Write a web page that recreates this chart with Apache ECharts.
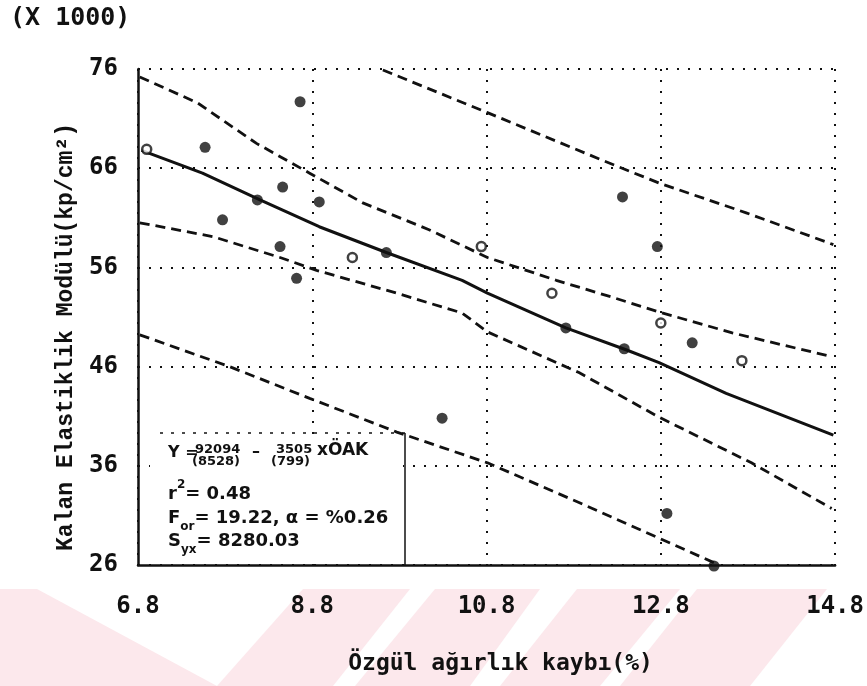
<!DOCTYPE html>
<html>
<head>
<meta charset="utf-8">
<script src="https://cdn.jsdelivr.net/npm/echarts@6/dist/echarts.min.js"></script>
<style>
  html, body { margin: 0; padding: 0; background: #fff; }
  #main { width: 867px; height: 686px; }
</style>
</head>
<body>
<div id="main"></div>
<script>
// x: Özgül ağırlık kaybı (%), y: Kalan elastiklik modülü (x1000 kp/cm2)
var xMin = 6.8, xMax = 14.8, xStep = 2;
var yMin = 26, yMax = 76, yStep = 10;

// measured points (filled / open markers)
var filledPts = [
  [7.57, 68.1], [8.66, 72.7], [7.77, 60.8], [8.46, 64.1], [8.17, 62.8],
  [8.88, 62.6], [8.43, 58.1], [8.62, 54.9], [9.65, 57.5], [10.29, 40.8],
  [11.71, 49.9], [12.36, 63.1], [12.76, 58.1], [12.38, 47.8], [13.16, 48.4],
  [12.87, 31.2], [13.41, 25.9]
];
var openPts = [
  [6.90, 67.9], [9.26, 57.0], [10.74, 58.1], [11.55, 53.4], [12.80, 50.4], [13.73, 46.6]
];

// regression line
var fitLine = [
  [6.84, 67.8], [7.54, 65.5], [8.20, 62.8], [8.88, 60.1], [9.65, 57.5], [10.52, 54.7],
  [10.81, 53.4], [11.71, 49.9], [12.40, 47.7], [12.78, 46.4], [13.55, 43.3], [14.78, 39.1]
];
// confidence bands
var upperInner = [
  [6.82, 75.2], [7.48, 72.6], [8.16, 68.5], [8.77, 65.5], [9.38, 62.5], [10.14, 59.8],
  [10.81, 57.0], [11.60, 54.7], [12.24, 53.0], [12.78, 51.5], [13.62, 49.4], [14.76, 47.0]
];
var lowerInner = [
  [6.82, 60.5], [7.66, 59.1], [8.43, 57.0], [8.85, 55.7], [9.77, 53.4], [10.52, 51.4],
  [10.81, 49.5], [11.86, 45.4], [12.78, 40.9], [13.84, 36.3], [14.76, 31.7]
];
// prediction bands
var upperOuter = [
  [9.61, 75.9], [10.81, 71.6], [12.13, 66.8], [12.78, 64.5], [13.78, 61.5], [14.78, 58.3]
];
var lowerOuter = [
  [6.82, 49.2], [7.85, 46.0], [8.77, 42.8], [9.77, 39.4], [10.81, 36.3],
  [11.86, 32.3], [12.78, 28.7], [13.47, 26.0]
];

var ink = '#111';
var mono = '"DejaVu Sans Mono", monospace';
var boxFont = '"DejaVu Sans", sans-serif';

function band(data) {
  return {
    type: 'line', data: data, showSymbol: false, silent: true, z: 3,
    lineStyle: { color: ink, width: 2.8, type: [10, 6] }
  };
}

var myChart = echarts.init(document.getElementById('main'));

var option = {
  backgroundColor: '#fff',
  animation: false,
  grid: { left: 138, right: 29, top: 69, bottom: 121 },
  xAxis: {
    type: 'value', min: xMin, max: xMax, interval: xStep,
    name: 'Özgül ağırlık kaybı(%)',
    nameLocation: 'middle', nameGap: 88,
    nameTextStyle: { color: ink, fontFamily: mono, fontWeight: 'bold', fontSize: 23, padding: [0, 0, 0, 28] },
    axisLine: { lineStyle: { color: ink, width: 2.5 } },
    axisTick: { show: false },
    axisLabel: {
      color: ink, fontFamily: mono, fontWeight: 'bold', fontSize: 24, margin: 30,
      formatter: function (v) { return v.toFixed(1); }
    },
    splitLine: { show: true, lineStyle: { color: ink, width: 2, type: [2, 9] } }
  },
  yAxis: {
    type: 'value', min: yMin, max: yMax, interval: yStep,
    name: 'Kalan Elastiklik Modülü(kp/cm²)',
    nameLocation: 'middle', nameGap: 52, nameRotate: 90,
    nameTextStyle: {
      color: ink, fontFamily: '"Liberation Mono", monospace', fontWeight: 'bold', fontSize: 23,
      padding: [0, 40, 0, 0]
    },
    axisLine: { show: true, lineStyle: { color: ink, width: 2.5 } },
    axisTick: { show: false },
    axisLabel: { color: ink, fontFamily: mono, fontWeight: 'bold', fontSize: 24, margin: 20 },
    splitLine: { show: true, lineStyle: { color: ink, width: 2, type: [2, 9] } }
  },
  series: [
    {
      type: 'line', data: fitLine, showSymbol: false, silent: true, z: 4,
      lineStyle: { color: ink, width: 3 }
    },
    band(upperInner),
    band(lowerInner),
    band(upperOuter),
    band(lowerOuter),
    {
      type: 'scatter', data: filledPts, symbol: 'circle', symbolSize: 11, clip: false, z: 5,
      itemStyle: { color: ink }
    },
    {
      type: 'scatter', data: openPts, symbol: 'circle', symbolSize: 9, clip: false, z: 5,
      itemStyle: { color: '#fff', borderColor: ink, borderWidth: 2.5 }
    }
  ],
  graphic: [
    // pale pink watermark stripes at the bottom
    { type: 'polygon', z: -10, shape: { points: [[0, 589], [37, 589], [217, 686], [0, 686]] }, style: { fill: '#fce8ec' } },
    { type: 'polygon', z: -10, shape: { points: [[303, 589], [410, 589], [333, 686], [217, 686]] }, style: { fill: '#fce8ec' } },
    { type: 'polygon', z: -10, shape: { points: [[435, 589], [540, 589], [470, 686], [355, 686]] }, style: { fill: '#fce8ec' } },
    { type: 'polygon', z: -10, shape: { points: [[577, 589], [680, 589], [600, 686], [500, 686]] }, style: { fill: '#fce8ec' } },
    { type: 'polygon', z: -10, shape: { points: [[697, 589], [827, 589], [750, 686], [620, 686]] }, style: { fill: '#fce8ec' } },

    // multiplier
    { type: 'text', x: 10, y: 6, style: { text: '(X 1000)', font: 'bold 25px ' + mono, fill: ink } },

    // regression summary box
    { type: 'rect', z: 9, shape: { x: 150, y: 436, width: 253, height: 127 }, style: { fill: '#fff' } },
    { type: 'line', z: 10, shape: { x1: 160, y1: 433, x2: 405, y2: 433 }, style: { stroke: ink, lineWidth: 1.5, lineDash: [3, 8] } },
    { type: 'line', z: 10, shape: { x1: 405, y1: 433, x2: 405, y2: 565 }, style: { stroke: ink, lineWidth: 1.5 } },
    { type: 'text', z: 11, x: 168, y: 445, style: { text: 'Y =', font: 'bold 16px ' + boxFont, fill: ink } },
    { type: 'text', z: 11, x: 195, y: 443, style: { text: '92094', font: 'bold 13px ' + boxFont, fill: ink } },
    { type: 'text', z: 11, x: 192, y: 455, style: { text: '(8528)', font: 'bold 13px ' + boxFont, fill: ink } },
    { type: 'text', z: 11, x: 252, y: 444, style: { text: '–', font: 'bold 16px ' + boxFont, fill: ink } },
    { type: 'text', z: 11, x: 276, y: 443, style: { text: '3505', font: 'bold 13px ' + boxFont, fill: ink } },
    { type: 'text', z: 11, x: 271, y: 455, style: { text: '(799)', font: 'bold 13px ' + boxFont, fill: ink } },
    { type: 'text', z: 11, x: 317, y: 442, style: { text: 'xÖAK', font: 'bold 17px ' + boxFont, fill: ink } },
    {
      type: 'text', z: 11, x: 168, y: 479,
      style: {
        text: '{n|r}{sup|2}{n|= 0.48}', fill: ink,
        rich: {
          n: { font: 'bold 18px ' + boxFont, lineHeight: 24, verticalAlign: 'bottom' },
          sup: { font: 'bold 12px ' + boxFont, lineHeight: 24, verticalAlign: 'top' }
        }
      }
    },
    {
      type: 'text', z: 11, x: 168, y: 509,
      style: {
        text: '{n|F}{sub|or}{n|= 19.22, α = %0.26}', fill: ink,
        rich: {
          n: { font: 'bold 18px ' + boxFont, lineHeight: 24, verticalAlign: 'top' },
          sub: { font: 'bold 12px ' + boxFont, lineHeight: 24, verticalAlign: 'bottom' }
        }
      }
    },
    {
      type: 'text', z: 11, x: 168, y: 532,
      style: {
        text: '{n|S}{sub|yx}{n|= 8280.03}', fill: ink,
        rich: {
          n: { font: 'bold 18px ' + boxFont, lineHeight: 24, verticalAlign: 'top' },
          sub: { font: 'bold 12px ' + boxFont, lineHeight: 24, verticalAlign: 'bottom' }
        }
      }
    }
  ]
};

myChart.setOption(option);
window.onresize = function () { myChart.resize(); };
</script>
</body>
</html>
